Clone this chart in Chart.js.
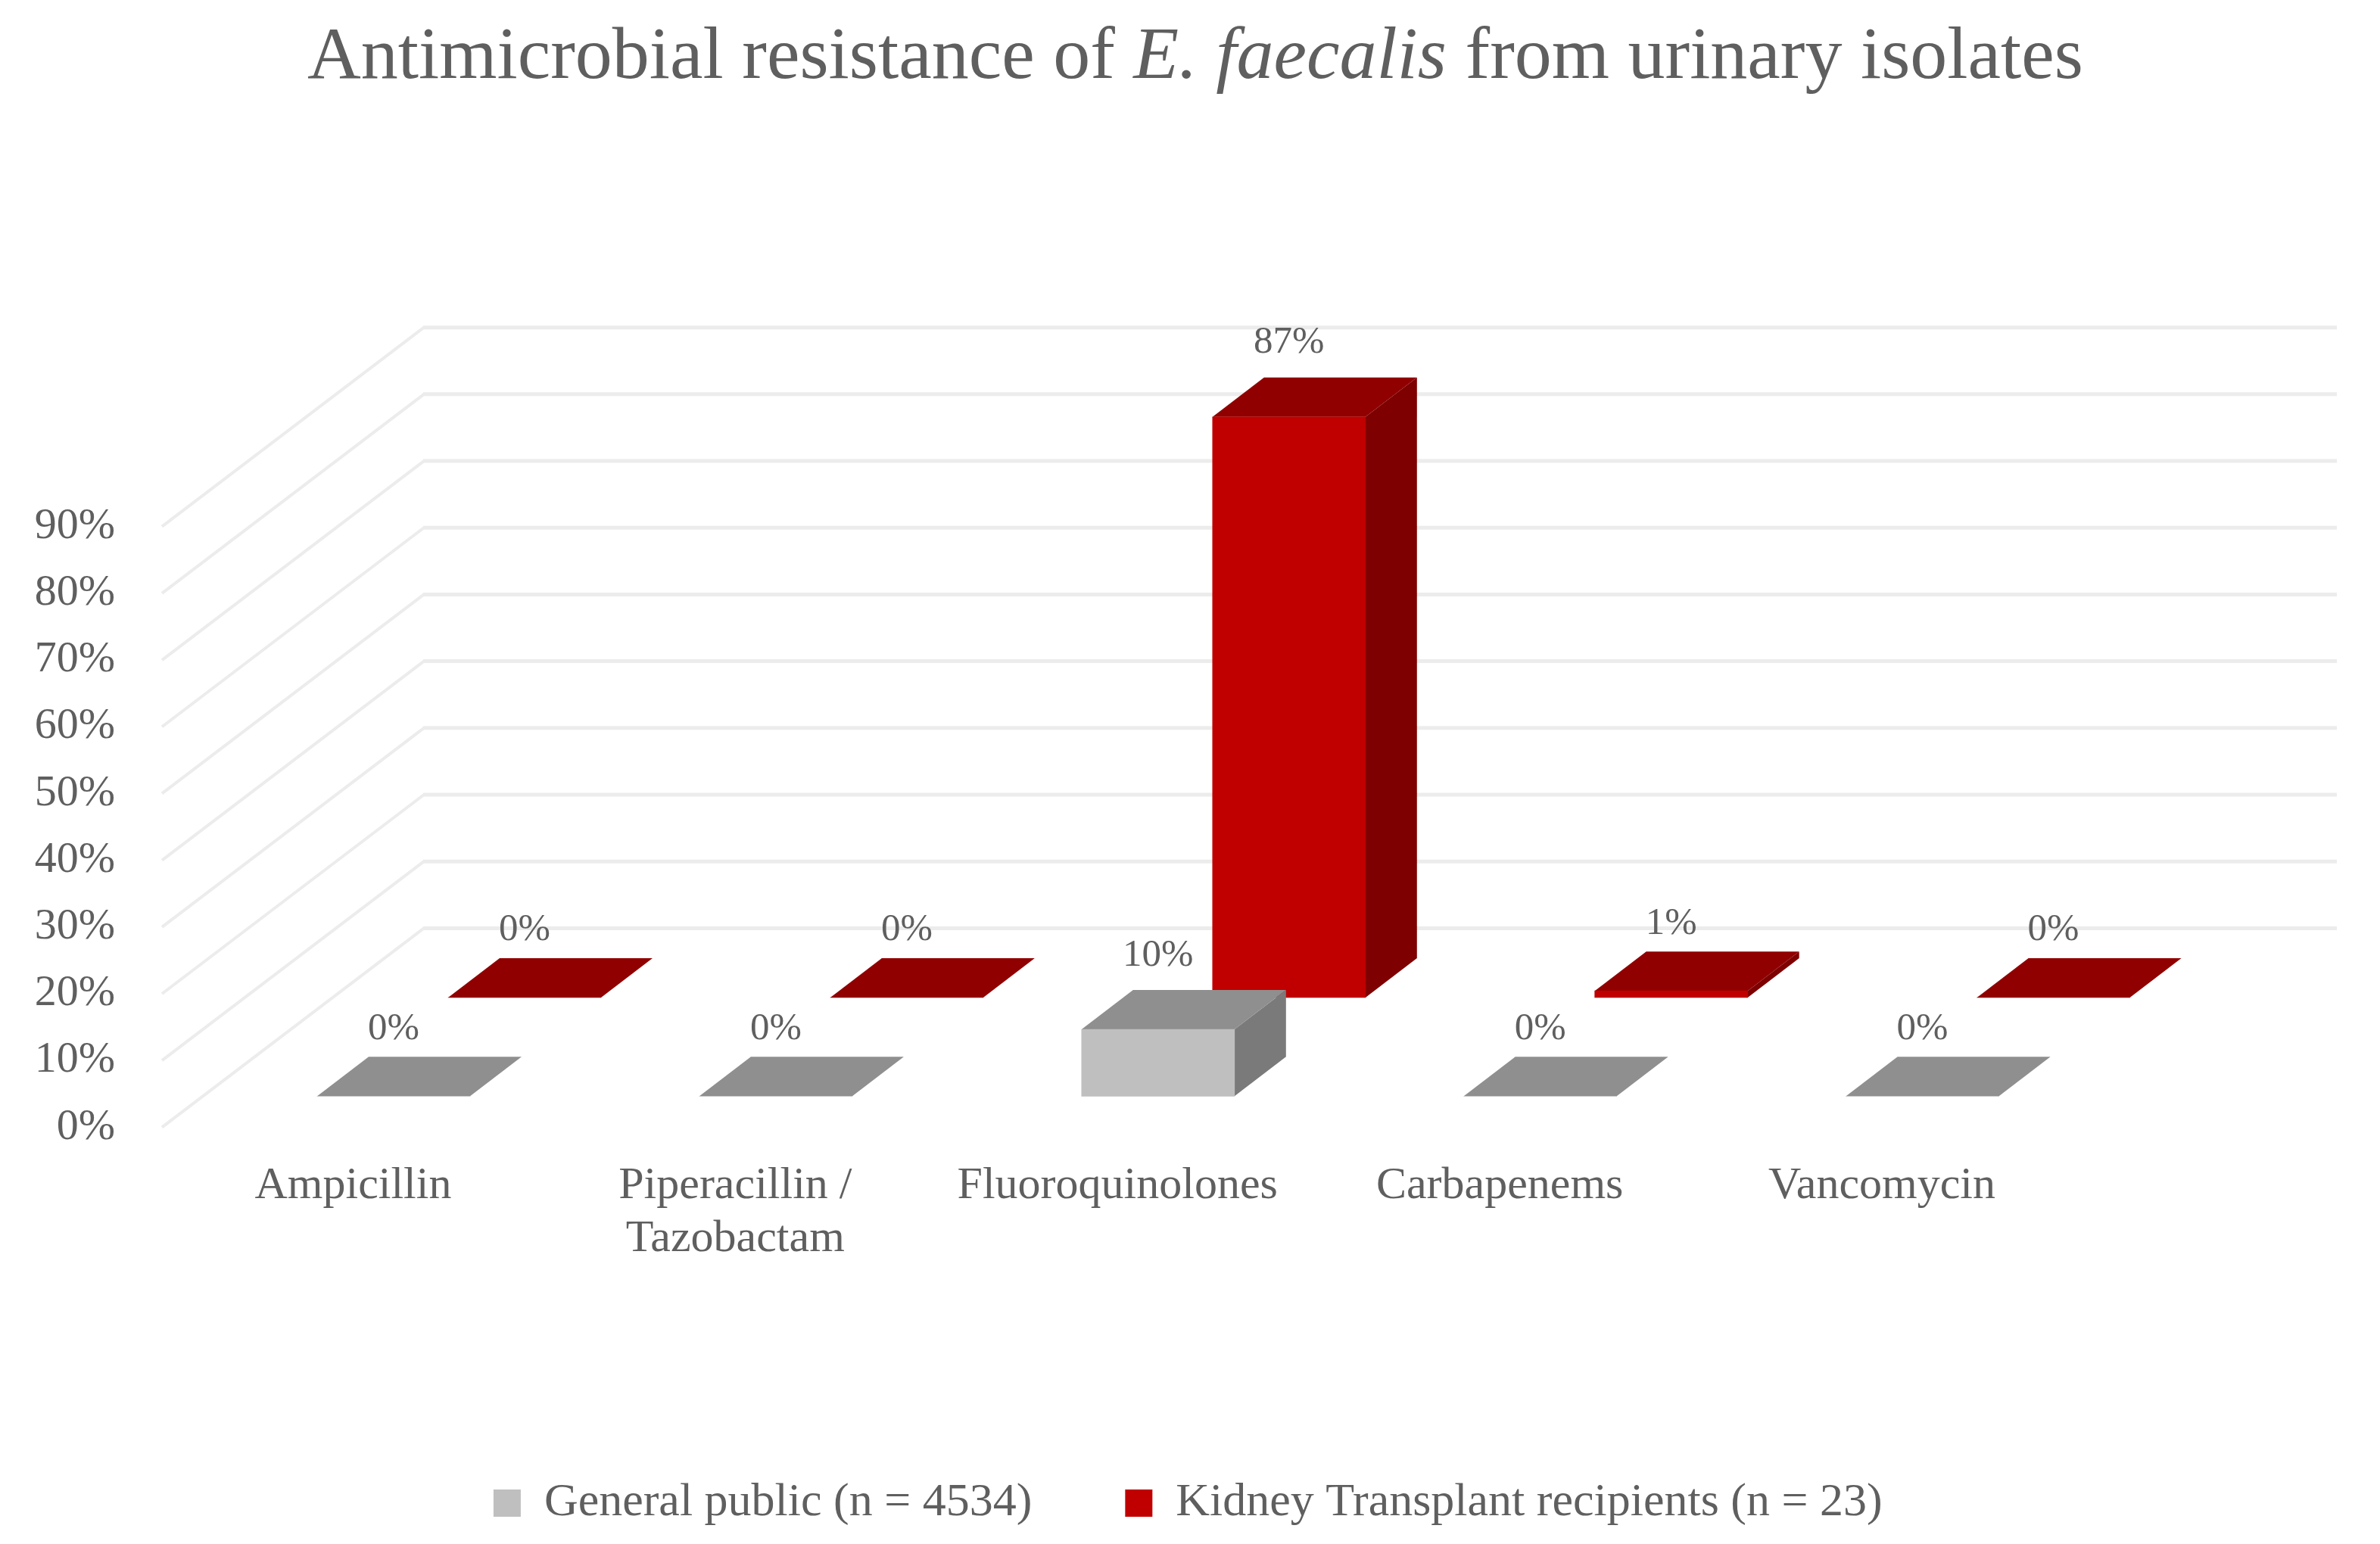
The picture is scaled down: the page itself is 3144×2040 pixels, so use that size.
<!DOCTYPE html>
<html>
<head>
<meta charset="utf-8">
<title>Antimicrobial resistance of E. faecalis</title>
<script src="https://cdn.jsdelivr.net/npm/chart.js@4/dist/chart.umd.min.js"></script>
<style>
  html, body { margin: 0; padding: 0; background: #fff; }
  #wrap { position: relative; width: 3144px; height: 2040px; }
  #chartTitle {
    position: absolute; left: 0; top: 14px; width: 3158px; text-align: center;
    font: 98px "Liberation Serif", serif; color: #5f5f5f; white-space: nowrap;
  }
  canvas { display: block; }
</style>
</head>
<body>
<div id="wrap">
  <div id="chartTitle">Antimicrobial resistance of <i>E. faecalis</i> from urinary isolates</div>
  <canvas id="chart" width="3144" height="2040"></canvas>
</div>
<script>
const categories = ['Ampicillin', ['Piperacillin /', 'Tazobactam'], 'Fluoroquinolones', 'Carbapenems', 'Vancomycin'];
const generalPublic = [0, 0, 10, 0, 0];
const kidneyTransplant = [0, 0, 87, 1, 0];
const tickValues = [0, 10, 20, 30, 40, 50, 60, 70, 80, 90];

const FONT = '"Liberation Serif", serif';
const TEXT = '#5f5f5f';
const GRID = '#ececec';

// the fake 3d box
const PCT = 8.8;          // px per 1%
const TOP = 400, LEFT = 214, RIGHT = 2738.5, FRONT = 1487;
const SLOT = (RIGHT - LEFT) / 5;
const DEPTH_X = 68, DEPTH_Y = 52;   // bar depth
const WALL_X = 346, WALL_Y = 263;   // floor depth
const WALL_END = 3087;
const LEGEND_PAD = 123, LEGEND_SIZE = 62, LEGEND_Y = 1978;

// each series sits on its own row of the floor
function xRange(center){ return { min: (LEFT - center) / SLOT, max: (RIGHT - center) / SLOT }; }
function yRange(zero){ return { min: (zero - FRONT) / PCT, max: (zero - TOP) / PCT }; }

const faces = [
  { top: '#8f8f8f', side: '#7a7a7a' },
  { top: '#900000', side: '#7e0000' }
];

const wallPlugin = {
  id: 'wall',
  beforeDatasetsDraw(chart){
    const c = chart.ctx, y = chart.scales.y;
    c.save();
    c.strokeStyle = GRID;
    tickValues.forEach(v => {
      const py = y.getPixelForValue(v);
      const ex = LEFT + WALL_X, ey = py - WALL_Y;
      c.lineWidth = 4;
      c.beginPath(); c.moveTo(LEFT, py); c.lineTo(ex, ey); c.stroke();
      c.lineWidth = 5;
      c.beginPath(); c.moveTo(ex - 1, ey); c.lineTo(WALL_END, ey); c.stroke();
    });
    c.restore();
  }
};

function poly(c, color, pts){
  c.fillStyle = color;
  c.beginPath();
  pts.forEach((p, i) => i ? c.lineTo(p[0], p[1]) : c.moveTo(p[0], p[1]));
  c.closePath();
  c.fill();
}

const boxPlugin = {
  id: 'box',
  beforeDatasetDraw(chart, args){
    const c = chart.ctx, f = faces[args.index];
    args.meta.data.forEach(bar => {
      const l = bar.x - bar.width / 2, r = bar.x + bar.width / 2;
      poly(c, f.side, [[r, bar.y], [r + DEPTH_X, bar.y - DEPTH_Y], [r + DEPTH_X, bar.base - DEPTH_Y], [r, bar.base]]);
      poly(c, f.top, [[l, bar.y], [r, bar.y], [r + DEPTH_X, bar.y - DEPTH_Y], [l + DEPTH_X, bar.y - DEPTH_Y]]);
    });
  },
  afterDatasetsDraw(chart){
    const c = chart.ctx;
    c.save();
    c.font = '51px ' + FONT;
    c.fillStyle = TEXT;
    c.textAlign = 'center';
    c.textBaseline = 'middle';
    chart.data.datasets.forEach((ds, i) => {
      chart.getDatasetMeta(i).data.forEach((bar, k) => {
        const v = ds.data[k].y;
        const gap = v >= 10 ? 46 : 37;
        c.fillText(v + '%', bar.x, bar.y - DEPTH_Y - gap);
      });
    });
    c.restore();
  }
};

// legend padding also pads it vertically, so place it by hand after layout
const legendPlugin = {
  id: 'legendPos',
  afterLayout(chart){
    const lg = chart.legend, h = lg.bottom - lg.top;
    lg.top = LEGEND_Y - LEGEND_PAD - 23;
    lg.bottom = lg.top + h;
    lg.left += 200; lg.right += 200;
  }
};

new Chart(document.getElementById('chart'), {
  type: 'bar',
  data: {
    labels: categories,
    datasets: [
      {
        label: 'General public (n = 4534)',
        data: categories.map((_, i) => ({ x: i, y: generalPublic[i] })),
        backgroundColor: '#bfbfbf',
        xAxisID: 'xG', yAxisID: 'yG',
        barThickness: 202, grouped: false, clip: false
      },
      {
        label: 'Kidney Transplant recipients (n = 23)',
        data: categories.map((_, i) => ({ x: i, y: kidneyTransplant[i] })),
        backgroundColor: '#c00000',
        xAxisID: 'xK', yAxisID: 'yK',
        barThickness: 202, grouped: false, clip: false
      }
    ]
  },
  options: {
    responsive: false,
    devicePixelRatio: 1,
    animation: false,
    layout: { padding: { top: TOP, left: 0, right: 3144 - RIGHT, bottom: 0 } },
    plugins: {
      title: { display: false },
      tooltip: { enabled: false },
      legend: {
        position: 'bottom',
        labels: { boxWidth: 36, boxHeight: 36, padding: LEGEND_PAD, color: TEXT, font: { family: FONT, size: LEGEND_SIZE } }
      }
    },
    scales: {
      x: {
        type: 'category', offset: true,
        grid: { display: false }, border: { display: false },
        ticks: { color: TEXT, font: { family: FONT, size: 60, lineHeight: 1.17 }, padding: 35, maxRotation: 0, autoSkip: false },
        afterFit(s){ s.height = 2040 - FRONT - (LEGEND_SIZE * 1.2 + LEGEND_PAD); }
      },
      y: {
        min: 0, max: (FRONT - TOP) / PCT,
        grid: { display: false }, border: { display: false },
        ticks: { stepSize: 10, color: TEXT, font: { family: FONT, size: 58 }, padding: 54, callback: v => v + '%' },
        afterBuildTicks(s){ s.ticks = tickValues.map(v => ({ value: v })); },
        afterFit(s){ s.width = LEFT; }
      },
      xG: { type: 'linear', display: false, offset: false, grid: { offset: false }, ...xRange(520) },
      xK: { type: 'linear', display: false, offset: false, grid: { offset: false }, ...xRange(693) },
      yG: { type: 'linear', display: false, ...yRange(1446) },
      yK: { type: 'linear', display: false, ...yRange(1316) }
    }
  },
  plugins: [wallPlugin, boxPlugin, legendPlugin]
});
</script>
</body>
</html>
